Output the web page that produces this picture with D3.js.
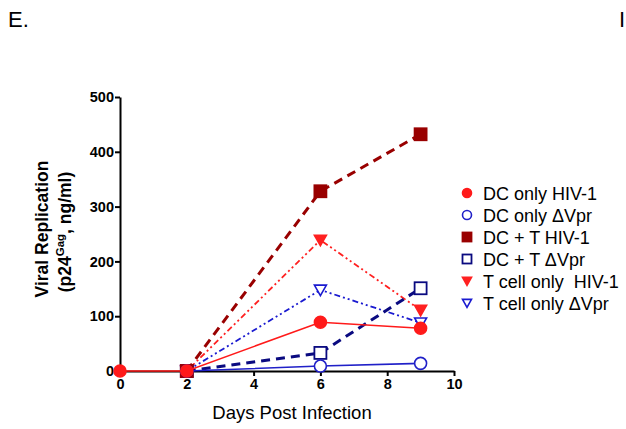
<!DOCTYPE html>
<html>
<head>
<meta charset="utf-8">
<style>
body { margin: 0; background: #fff; }
svg { font-family: Arial, "Liberation Sans", sans-serif; }
.axis path, .axis line { stroke: #000; stroke-width: 2px; }
.axis text { font-weight: bold; font-size: 14.5px; fill: #000; }
</style>
</head>
<body>
<svg width="626" height="429"></svg>
<script src="https://cdn.jsdelivr.net/npm/d3@7"></script>
<script>
var svg = d3.select("svg");

var days = [0, 2, 6, 9];
var dcHiv = [0, 0, 89, 78];
var dcVpr = [null, 0, 9, 14];
var dctHiv = [null, 0, 328, 432];
var dctVpr = [null, 0, 33, 151];
var tHiv = [null, 0, 239, 111];
var tVpr = [null, 0, 148, 88];

var xTicks = [0, 2, 4, 6, 8, 10];
var yTicks = [0, 100, 200, 300, 400, 500];

var series = [
  {name: "DC only HIV-1", values: dcHiv, color: "#ff1a1a", dash: null, width: 1.6, shape: "circle", fill: true},
  {name: "DC only \u0394Vpr", values: dcVpr, color: "#2020c8", dash: null, width: 1.6, shape: "circle", fill: false},
  {name: "DC + T HIV-1", values: dctHiv, color: "#990000", dash: "9,6", width: 3, shape: "square", fill: true},
  {name: "DC + T \u0394Vpr", values: dctVpr, color: "#0a0a80", dash: "9,6", width: 3, shape: "square", fill: false},
  {name: "T cell only  HIV-1", values: tHiv, color: "#ff2020", dash: "6,3,2,3,2,3", width: 1.8, shape: "tri", fill: true},
  {name: "T cell only \u0394Vpr", values: tVpr, color: "#1a1ad0", dash: "6,3,2,3,2,3", width: 1.8, shape: "tri", fill: false}
];

var x = d3.scaleLinear().domain([0, 10]).range([120, 454]);
var y = d3.scaleLinear().domain([0, 500]).range([371, 97]);

svg.append("text").attr("x", 8).attr("y", 27).attr("font-size", 22).text("E.");
svg.append("text").attr("x", 619).attr("y", 27).attr("font-size", 22).text("I");

svg.append("g").attr("class", "axis")
    .attr("transform", "translate(0,371)")
    .call(d3.axisBottom(x).tickValues(xTicks).tickSize(5).tickSizeOuter(0).tickPadding(3));

svg.append("g").attr("class", "axis")
    .attr("transform", "translate(120,0)")
    .call(d3.axisLeft(y).tickValues(yTicks).tickSize(5).tickSizeOuter(0).tickPadding(1));

svg.append("text")
    .attr("x", 292).attr("y", 419)
    .attr("text-anchor", "middle").attr("font-size", 18.5)
    .text("Days Post Infection");

var yt = svg.append("text")
    .attr("transform", "translate(0,229) rotate(-90)")
    .attr("text-anchor", "middle").attr("font-weight", "bold").attr("font-size", 17.5);
yt.append("tspan").attr("x", 0).attr("y", 48).text("Viral Replication");
var yt2 = svg.append("text")
    .attr("transform", "translate(0,232) rotate(-90)")
    .attr("text-anchor", "middle").attr("font-weight", "bold").attr("font-size", 17.5);
yt2.append("tspan").attr("x", 0).attr("y", 71).text("(p24");
yt2.append("tspan").attr("dy", -7).attr("font-size", 11.5).text("Gag");
yt2.append("tspan").attr("dy", 7).text(", ng/ml)");

function drawMarker(g, s, cx, cy, r) {
  var fill = s.fill ? s.color : "#fff";
  if (s.shape === "circle") {
    g.append("circle").attr("cx", cx).attr("cy", cy).attr("r", r)
      .attr("fill", fill).attr("stroke", s.color).attr("stroke-width", 1.6);
  } else if (s.shape === "square") {
    g.append("rect").attr("x", cx - r).attr("y", cy - r).attr("width", 2 * r).attr("height", 2 * r)
      .attr("fill", fill).attr("stroke", s.color).attr("stroke-width", 1.8);
  } else {
    g.append("path")
      .attr("d", "M" + (cx - r) + "," + (cy - r * 0.8) + "L" + (cx + r) + "," + (cy - r * 0.8) + "L" + cx + "," + (cy + r * 0.95) + "Z")
      .attr("fill", fill).attr("stroke", s.color).attr("stroke-width", 1.6);
  }
}

var line = d3.line()
    .defined(function(d) { return d.v !== null; })
    .x(function(d) { return x(d.d); })
    .y(function(d) { return y(d.v); });

var plot = svg.append("g");
series.slice().reverse().forEach(function(s) {
  var pts = days.map(function(d, i) { return {d: d, v: s.values[i]}; });
  plot.append("path").datum(pts)
    .attr("d", line)
    .attr("fill", "none")
    .attr("stroke", s.color)
    .attr("stroke-width", s.width)
    .attr("stroke-dasharray", s.dash);
  pts.forEach(function(p) {
    if (p.v !== null) drawMarker(plot, s, x(p.d), y(p.v), 6);
  });
});

var legend = svg.append("g");
series.forEach(function(s, i) {
  var ly = 193 + i * 22;
  drawMarker(legend, s, 467, ly, 4.5);
  legend.append("text")
    .attr("x", 483).attr("y", ly + 6.5)
    .attr("font-size", 18)
    .style("white-space", "pre")
    .attr("xml:space", "preserve")
    .text(s.name);
});
</script>
</body>
</html>
